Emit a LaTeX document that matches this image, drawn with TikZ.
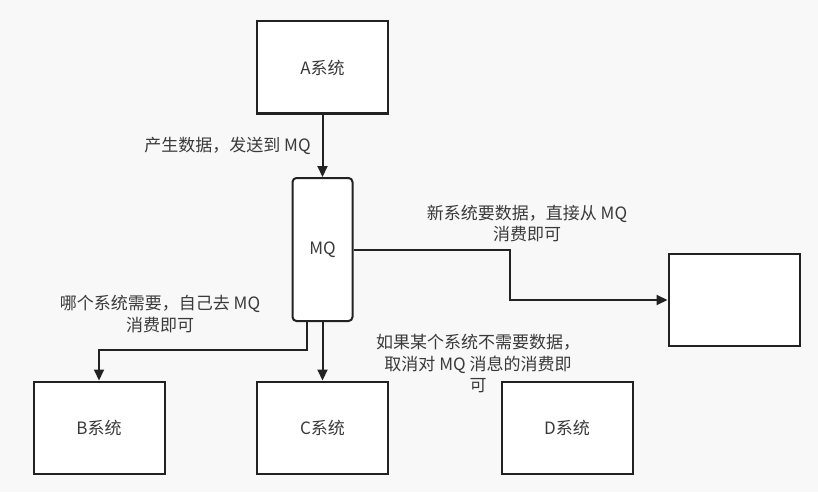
\documentclass[tikz,border=0pt]{standalone}
\usepackage{fontspec}
\setmainfont{Noto Sans CJK SC}
\usetikzlibrary{arrows.meta}
\definecolor{bgpaper}{HTML}{F8F8F8}
\definecolor{inkline}{HTML}{222222}
\definecolor{inktext}{HTML}{3A3A3A}

\begin{document}
\begin{tikzpicture}[x=1pt,y=-1pt,
  sysbox/.style={draw=inkline,line width=2pt,fill=white,minimum width=131pt,minimum height=92pt,inner sep=0pt,text=inktext,font=\fontsize{17}{21}\selectfont},
  mqbox/.style={sysbox,rounded corners=4pt,minimum width=60pt,minimum height=143pt},
  note/.style={inner sep=0pt,align=center,text=inktext,font=\fontsize{17}{21.5}\selectfont},
  arr/.style={draw=inkline,line width=2pt,-{Triangle[length=11pt,width=10pt]}}]
\fill[bgpaper] (0,0) rectangle (818,492);
\useasboundingbox (0,0) rectangle (818,492);
% systems
\node[sysbox] (A) at (322.5,67.5) {A系统};
\node[mqbox] (MQ) at (322.5,249.5) {MQ};
\node[sysbox] (N) at (734,300) {};
\node[sysbox] (B) at (99,427.5) {B系统};
\node[sysbox] (C) at (322.5,427.5) {C系统};
\node[sysbox] (D) at (567,427.5) {D系统};
% knees of the elbow lines
\coordinate (mqB) at (307,321);
\coordinate (kneeB) at (0,350);
\coordinate (kneeN) at (510,0);
% connectors
\draw[arr] (A.south) -- (MQ.north);
\draw[arr] (MQ.east) -- (MQ.east -| kneeN) |- (N.west);
\draw[arr] (mqB) -- (mqB |- kneeB) -| (B.north);
\draw[arr] (MQ.south) -- (C.north);
% notes
\node[note] (sendnote) at (227.5,146) {产生数据，发送到 MQ};
\node[note] (newnote) at (527,223.5) {新系统要数据，直接从 MQ\\消费即可};
\node[note] (pullnote) at (160,314) {哪个系统需要，自己去 MQ\\消费即可};
\node[note] (dropnote) at (478,363.5) {如果某个系统不需要数据，\\取消对 MQ 消息的消费即\\可};
\end{tikzpicture}
\end{document}
